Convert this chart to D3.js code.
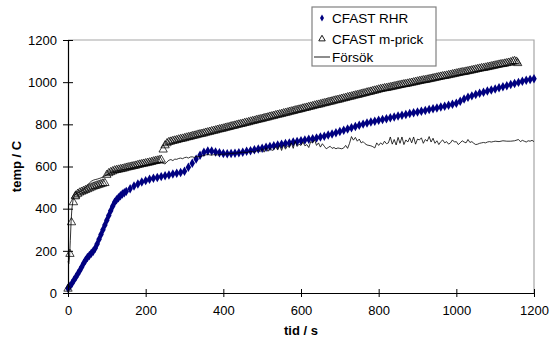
<!DOCTYPE html>
<html><head><meta charset="utf-8">
<script src="https://cdn.jsdelivr.net/npm/d3@7"></script>
<style>body{margin:0;background:#fff}svg{display:block}text{font-family:"Liberation Sans",Arial,sans-serif}</style>
</head><body>
<svg id="c" width="550" height="347"></svg>
<script>
// ---- data ----
const xTicks = [0,200,400,600,800,1000,1200];
const yTicks = [0,200,400,600,800,1000,1200];
const seriesNames = ["CFAST RHR","CFAST m-prick","Försök"];

const rhrTime = [0,5,10,15,20,25,30,35,40,45,50,55,60,65,70,75,80,85,90,95,100,105,110,115,120,125,130,135,140,145,150,
 160,170,180,190,200,210,220,230,240,250,260,270,280,290,300,310,320,330,340,350,360,370,380,390,400,410,420,430,440,450,
 460,470,480,490,500,510,520,530,540,550,560,570,580,590,600,610,620,630,640,650,660,670,680,690,700,710,720,730,740,750,
 760,770,780,790,800,810,820,830,840,850,860,870,880,890,900,910,920,930,940,950,960,970,980,990,1000,1010,1020,1030,1040,
 1050,1060,1070,1080,1090,1100,1110,1120,1130,1140,1150,1160,1170,1180,1190,1200];
const rhrTemp = [22,32,45,60,75,90,105,122,140,155,168,178,188,198,212,232,255,278,300,322,345,368,390,412,430,442,452,461,469,476,482,
 495,507,517,527,533,539,544,548,552,556,560,564,568,572,578,596,615,635,653,668,674,674,669,665,662,661,662,663,665,668,
 672,675,679,683,687,691,695,698,702,705,709,712,716,719,722,726,729,732,735,740,744,749,754,760,766,772,778,784,790,796,
 801,806,811,815,819,823,827,831,835,839,843,847,851,855,858,862,866,870,874,878,882,886,890,895,900,910,920,928,935,
 941,947,952,958,963,968,973,978,983,989,994,999,1004,1009,1013,1016];

const mTime = [0,5,9,14,19,20,25,30,35,40,45,50,55,60,65,70,75,80,85,90,95,
 100,105,110,115,120,125,130,135,140,145,150,155,160,165,170,175,180,185,190,195,200,205,210,215,220,225,230,235,240,
 245,250,255,260,265,270,275,280,285,290,295,300,305,310,315,320,325,330,335,340,345,350,355,360,365,370,375,380,385,390,395,
 400,405,410,415,420,425,430,435,440,445,450,455,460,465,470,475,480,485,490,495,500,505,510,515,520,525,530,535,540,545,
 550,555,560,565,570,575,580,585,590,595,600,605,610,615,620,625,630,635,640,645,650,655,660,665,670,675,680,685,690,695,
 700,705,710,715,720,725,730,735,740,745,750,755,760,765,770,775,780,785,790,795,800,805,810,815,820,825,830,835,840,845,
 850,855,860,865,870,875,880,885,890,895,900,905,910,915,920,925,930,935,940,945,950,955,960,965,970,975,980,985,990,995,
 1000,1005,1010,1015,1020,1025,1030,1035,1040,1045,1050,1055,1060,1065,1070,1075,1080,1085,1090,1095,1100,1105,1110,1115,
 1120,1125,1130,1135,1140,1145,1150,1155,1158];
const mTemp = [20,185,335,430,458,462,470,476,480,484,488,492,496,500,504,507,510,513,516,519,521,
 560,568,573,577,581,583,585,587,589,591,594,596,598,600,602,604,607,609,611,613,615,617,619,621,624,626,628,630,632,
 680,700,710,716,718,721,723,725,728,730,732,734,737,739,741,744,746,748,751,753,755,757,760,762,764,767,769,771,774,776,778,
 780,783,785,787,790,792,794,797,799,801,803,806,808,810,813,815,817,820,822,824,826,829,831,833,836,838,840,843,845,847,
 849,852,854,856,859,861,863,866,868,870,872,875,877,879,882,884,886,889,891,893,895,898,900,902,905,907,909,912,914,916,
 918,921,923,925,928,930,932,935,937,939,941,944,946,948,951,953,955,958,960,962,965,967,969,971,972,974,976,978,980,982,
 984,986,988,990,991,993,995,997,999,1001,1003,1005,1007,1009,1010,1012,1014,1016,1018,1020,1022,1024,1026,1028,1029,1031,1033,1035,1037,1039,
 1041,1043,1045,1047,1048,1050,1052,1054,1056,1058,1060,1062,1064,1066,1067,1069,1071,1073,1075,1077,1079,1081,1083,1085,
 1086,1088,1090,1092,1094,1098,1100,1097,1090];

const fTime = [0,2,4,6,8,10,13,16,20,25,30,35,40,45,50,55,60,65,70,75,80,85,90,95,100,105,110,120,140,160,180,200,220,240,
 245,250,255,260,265,270,275,280,285,290,295,300,305,310,315,320,325,330,335,340,345,350,355,360,365,370,375,380,385,390,395,
 400,410,420,430,440,450,460,470,480,490,495,500,505,510,515,520,525,530,535,540,545,550,555,560,565,570,575,580,585,590,595,
 600,605,610,615,620,625,630,635,640,645,650,655,660,665,670,675,680,685,690,695,700,705,710,715,720,725,730,735,740,745,
 750,755,760,765,770,775,780,785,790,795,800,805,810,815,820,825,830,835,840,845,850,855,860,865,870,875,880,885,890,895,
 900,905,910,915,920,925,930,935,940,945,950,955,960,965,970,975,980,985,990,995,1000,1005,1010,1015,1020,1025,1030,1035,
 1040,1045,1050,1055,1060,1065,1070,1075,1080,1085,1090,1095,1100,1110,1120,1130,1140,1150,1160,1165,1170,1175,1180,1185,1190,1195,1200];
const fTemp = [150,138,170,250,340,400,440,460,470,476,480,485,492,500,510,522,530,535,538,540,543,546,550,555,560,566,572,578,585,592,600,606,612,618,
 615,612,622,630,633,628,635,634,638,640,637,642,644,640,645,646,643,648,646,647,650,652,655,657,655,654,656,655,655,656,658,
 658,660,662,663,665,668,666,672,668,678,670,685,668,690,672,688,676,680,694,678,700,676,702,682,698,690,712,686,720,695,706,
 700,716,698,704,690,718,712,726,700,712,692,708,696,684,690,696,686,690,684,688,686,684,688,700,686,710,742,725,738,
 720,730,712,718,708,702,700,698,694,688,712,700,712,704,720,708,712,740,706,728,702,738,710,740,704,726,716,736,712,740,
 706,730,726,736,710,728,720,742,716,734,710,722,704,718,726,712,718,706,712,726,716,718,704,712,722,716,712,728,714,
 718,710,704,706,710,712,714,712,716,718,716,718,720,718,722,720,720,722,728,718,724,720,716,722,720,724,718];

// ---- layout ----
const svg = d3.select("#c");
const L = 68, R = 534, T = 40, B = 293;
const x = d3.scaleLinear().domain([0,1200]).range([L,R]);
const y = d3.scaleLinear().domain([0,1200]).range([B,T]);

// plot frame (top/right light gray)
svg.append("path").attr("d",`M${L},${T}H${R}V${B}`).attr("fill","none").attr("stroke","#a6a6a6").attr("stroke-width",1.2);

// series: RHR diamonds
const diamond = d3.symbol().type(d3.symbolDiamond).size(26);
svg.append("g").selectAll("path").data(rhrTime.map((t,i)=>[t,rhrTemp[i]])).join("path")
  .attr("d",diamond).attr("transform",d=>`translate(${x(d[0])},${y(d[1])})`).attr("fill","#000080");

// m-prick triangles
const tri = d3.symbol().type(d3.symbolTriangle).size(30);
svg.append("g").selectAll("path").data(mTime.map((t,i)=>[t,mTemp[i]])).join("path")
  .attr("d",tri).attr("transform",d=>`translate(${x(d[0])},${y(d[1])})`)
  .attr("fill","none").attr("stroke","#000").attr("stroke-width",0.75);

// Försök line
svg.append("path").datum(fTime.map((t,i)=>[t,fTemp[i]]))
  .attr("d",d3.line().x(d=>x(d[0])).y(d=>y(d[1])))
  .attr("fill","none").attr("stroke","#000").attr("stroke-width",0.8);

// axes
const xa = svg.append("g").attr("transform",`translate(0,${B})`)
  .call(d3.axisBottom(x).tickValues(xTicks).tickFormat(d3.format("d")).tickSizeInner(4).tickSizeOuter(0).tickPadding(9));
xa.selectAll(".tick line").attr("y1",-4);
const ya = svg.append("g").attr("transform",`translate(${L},0)`)
  .call(d3.axisLeft(y).tickValues(yTicks).tickFormat(d3.format("d")).tickSizeInner(5).tickSizeOuter(0).tickPadding(6));
ya.selectAll(".tick line").attr("x1",5);
[xa,ya].forEach(a=>{
  a.select(".domain").attr("stroke","#000").attr("stroke-width",1.2);
  a.selectAll(".tick line").attr("stroke","#000");
  a.selectAll(".tick text").attr("font-size",13).attr("fill","#000").attr("font-family","Liberation Sans, Arial, sans-serif");
});

// axis titles
svg.append("text").attr("x",(L+R)/2).attr("y",335).attr("text-anchor","middle")
  .attr("font-size",13).attr("font-weight","bold").text("tid / s");
svg.append("text").attr("transform",`translate(21,${(T+B)/2}) rotate(-90)`).attr("text-anchor","middle")
  .attr("font-size",13).attr("font-weight","bold").text("temp / C");

// legend
const lg = svg.append("g");
lg.append("rect").attr("x",312).attr("y",7).attr("width",124).attr("height",59)
  .attr("fill","#fff").attr("stroke","#808080").attr("stroke-width",1.2);
const ly = [18,39,57];
lg.append("path").attr("d",d3.symbol().type(d3.symbolDiamond).size(14)).attr("transform",`translate(322,${ly[0]})`).attr("fill","#000080");
lg.append("path").attr("d",d3.symbol().type(d3.symbolTriangle).size(18)).attr("transform",`translate(322,${ly[1]})`)
  .attr("fill","#fff").attr("stroke","#000").attr("stroke-width",0.9);
lg.append("line").attr("x1",314).attr("x2",330).attr("y1",ly[2]).attr("y2",ly[2]).attr("stroke","#000").attr("stroke-width",0.9);
seriesNames.forEach((n,i)=>{
  lg.append("text").attr("x",332).attr("y",ly[i]).attr("dy","0.35em").attr("font-size",13.5).text(n);
});
</script>
</body></html>
